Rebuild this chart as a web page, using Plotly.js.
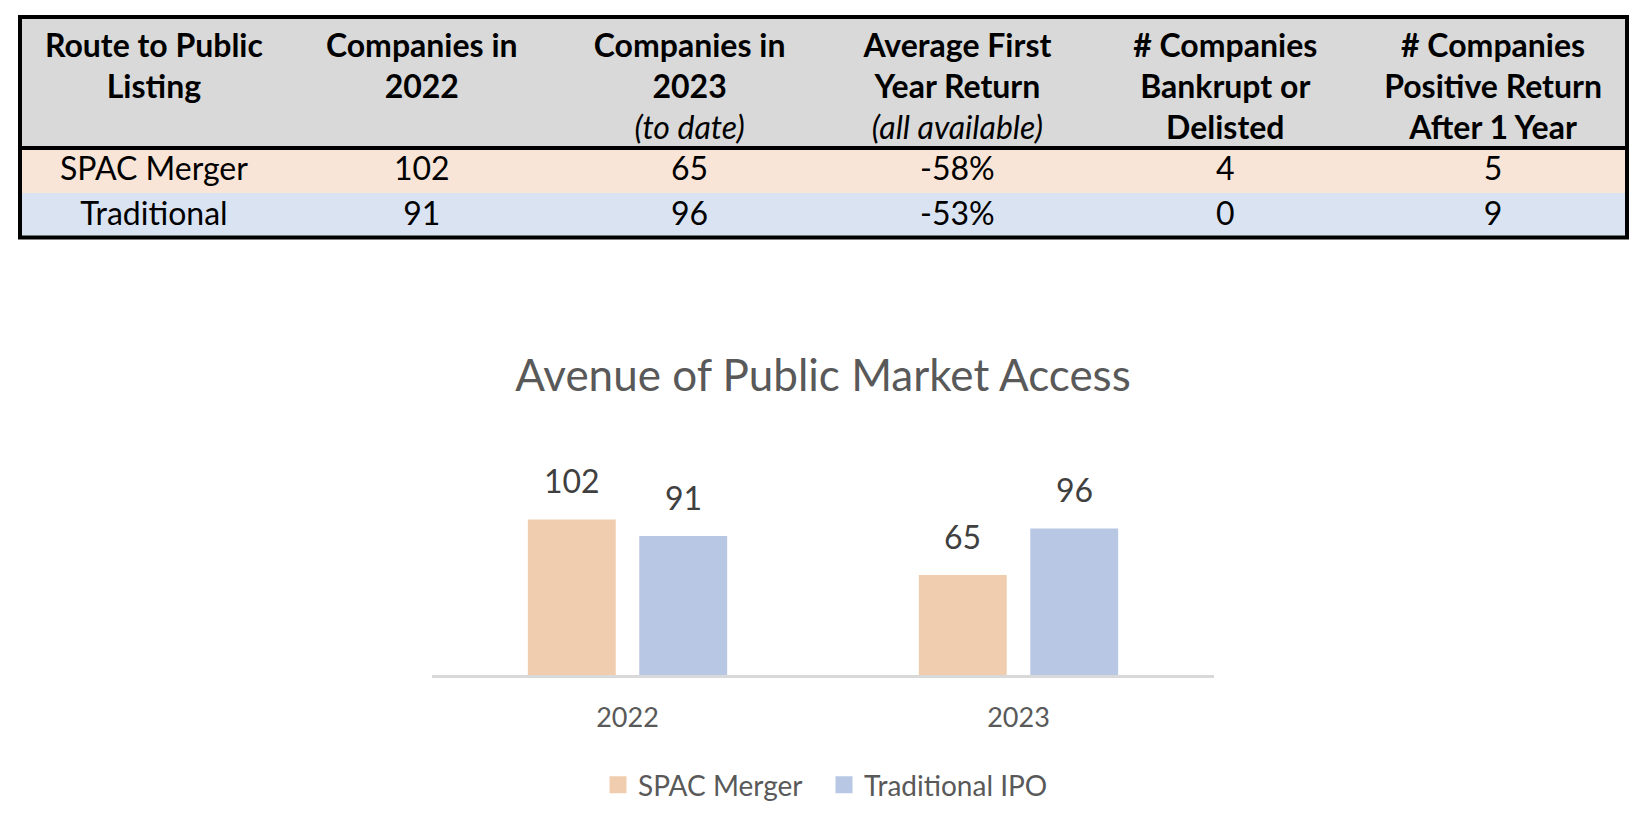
<!DOCTYPE html>
<html>
<head>
<meta charset="utf-8">
<script src="https://cdn.plot.ly/plotly-3.0.1.min.js"></script>
<style>
  html, body { margin: 0; padding: 0; background: #ffffff; }
  .layer { position: absolute; left: 0; top: 0; width: 1646px; height: 818px; }
</style>
</head>
<body>
<div id="tableDiv" class="layer"></div>
<div id="chartDiv" class="layer"></div>
<script>
// ---------- Table data ----------
var headerLine1 = ['Route to Public', 'Companies in', 'Companies in', 'Average First', '# Companies', '# Companies'];
var headerLine2 = ['Listing', '2022', '2023', 'Year Return', 'Bankrupt or', 'Positive Return'];
var headerLine3 = ['', '', '(to date)', '(all available)', 'Delisted', 'After 1 Year'];
var headerLine3Italic = [false, false, true, true, false, false];

var routes = ['SPAC Merger', 'Traditional'];
var companies2022 = [102, 91];
var companies2023 = [65, 96];
var avgFirstYearReturn = ['-58%', '-53%'];
var bankruptOrDelisted = [4, 0];
var positiveAfter1Year = [5, 9];

// ---------- Chart data ----------
var years = ['2022', '2023'];
var spacMerger = [102, 65];
var traditionalIPO = [91, 96];

// ---------- Styles ----------
var W = 1646, H = 818;
var FONT = 'Lato, "Open Sans", sans-serif';
var headerGray = '#D9D9D9';
var rowColors = ['#F8E5D7', '#DAE3F1'];
var spacColor = '#F1CDB0';
var tradColor = '#B8C7E4';

function px(x) { return x / W; }
function py(y) { return 1 - y / H; }

// ---------- Table ----------
var headerValues = headerLine1.map(function (t, i) {
  return [t, headerLine2[i], headerLine3[i]];
});
var headerWeight = headerLine3Italic.map(function (it) {
  return ['bold', 'bold', it ? 'normal' : 'bold'];
});
var headerStyle = headerLine3Italic.map(function (it) {
  return ['normal', 'normal', it ? 'italic' : 'normal'];
});
var tableCols = [routes, companies2022, companies2023, avgFirstYearReturn, bankruptOrDelisted, positiveAfter1Year];
var cellFill = tableCols.map(function () { return rowColors.slice(); });

var tableTrace = {
  type: 'table',
  domain: { x: [px(20), px(1627)], y: [py(238), py(25)] },
  columnwidth: [1, 1, 1, 1, 1, 1],
  header: {
    values: headerValues,
    align: 'center',
    height: 41,
    fill: { color: headerGray },
    line: { color: headerGray, width: 1 },
    font: { family: FONT, size: 32, color: '#000000', weight: headerWeight, style: headerStyle }
  },
  cells: {
    values: tableCols,
    align: 'center',
    height: 45,
    fill: { color: cellFill },
    line: { color: cellFill, width: 1 },
    font: { family: FONT, size: 32, color: '#000000' }
  }
};

var tableLayout = {
  width: W, height: H,
  margin: { l: 0, r: 0, t: 0, b: 0 },
  paper_bgcolor: '#ffffff',
  shapes: [
    { type: 'rect', xref: 'paper', yref: 'paper', layer: 'below',
      x0: px(20), x1: px(1627), y0: py(26), y1: py(17),
      line: { width: 0 }, fillcolor: headerGray },
    { type: 'rect', xref: 'paper', yref: 'paper',
      x0: px(20), x1: px(1627), y0: py(237.5), y1: py(17),
      line: { color: '#000000', width: 4 }, fillcolor: 'rgba(0,0,0,0)' },
    { type: 'line', xref: 'paper', yref: 'paper',
      x0: px(20), x1: px(1627), y0: py(148), y1: py(148),
      line: { color: '#000000', width: 4 } }
  ]
};

Plotly.newPlot('tableDiv', [tableTrace], tableLayout, { displayModeBar: false, staticPlot: true });

// ---------- Bar chart ----------
// an outline in the fill colour enlarges the legend swatch to match the reference
var spacTrace = {
  type: 'bar', name: 'SPAC Merger', x: years, y: spacMerger,
  marker: { color: spacColor, line: { color: spacColor, width: 5 } }
};
var tradTrace = {
  type: 'bar', name: 'Traditional IPO', x: years, y: traditionalIPO,
  marker: { color: tradColor, line: { color: tradColor, width: 5 } }
};

// value labels: x given as category index so the category axis maps them
var annotations = [];
[[spacMerger, -55.75], [traditionalIPO, 55.75]].forEach(function (s) {
  s[0].forEach(function (v, j) {
    annotations.push({
      x: j, y: v, xref: 'x', yref: 'y',
      text: String(v), showarrow: false,
      xshift: s[1], yshift: 20, yanchor: 'bottom', xanchor: 'center',
      font: { family: FONT, size: 32, color: '#404040' }
    });
  });
});

var chartLayout = {
  width: W, height: H,
  margin: { l: 0, r: 0, t: 0, b: 0 },
  paper_bgcolor: 'rgba(0,0,0,0)', plot_bgcolor: 'rgba(0,0,0,0)',
  showlegend: true,
  title: {
    text: 'Avenue of Public Market Access',
    x: 0.5, xref: 'paper', xanchor: 'center',
    y: py(376), yref: 'paper', yanchor: 'middle',
    font: { family: FONT, size: 44, color: '#595959' }
  },
  barmode: 'group',
  bargap: 0.43,
  bargroupgap: 0.256,
  xaxis: {
    domain: [px(432), px(1214)],
    type: 'category',
    range: [-0.5, 1.5], autorange: false,
    showline: true, linecolor: '#D9D9D9', linewidth: 3,
    showgrid: false, zeroline: false, ticks: '',
    ticklabelstandoff: 17,
    tickfont: { family: FONT, size: 27, color: '#595959' },
    fixedrange: true
  },
  yaxis: {
    domain: [py(675), py(495)],
    range: [0, 120], autorange: false,
    visible: false, showgrid: false, zeroline: false,
    fixedrange: true
  },
  legend: {
    orientation: 'h', x: px(598), xanchor: 'left',
    y: py(785), yanchor: 'middle',
    entrywidth: 181,
    font: { family: FONT, size: 28, color: '#595959' },
    bgcolor: 'rgba(0,0,0,0)'
  },
  annotations: annotations
};

Plotly.newPlot('chartDiv', [spacTrace, tradTrace], chartLayout, { displayModeBar: false, staticPlot: true });
</script>
</body>
</html>
